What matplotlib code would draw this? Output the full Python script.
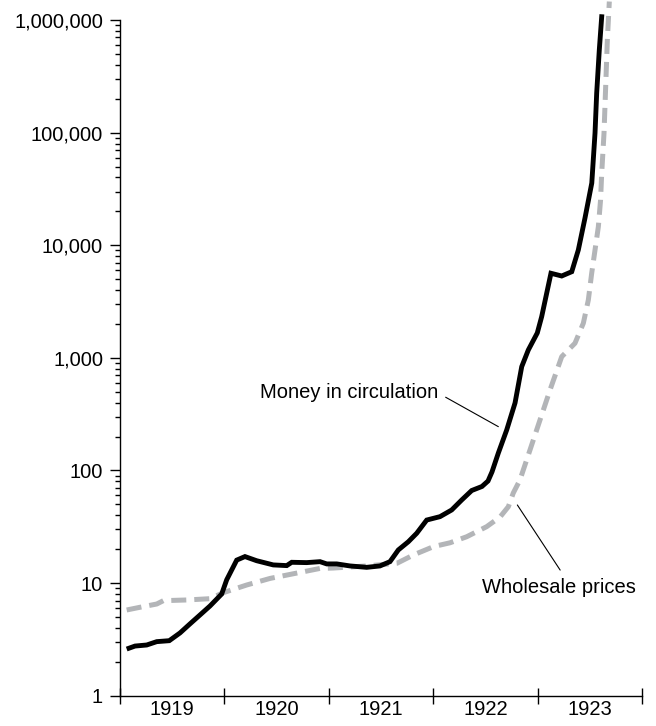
import matplotlib
matplotlib.use("Agg")
import matplotlib.pyplot as plt
import matplotlib.ticker as mticker
import numpy as np

plt.rcParams["font.family"] = ["Liberation Sans", "DejaVu Sans"]

# money in circulation (index)
money_t = [1919.086, 1919.144, 1919.256, 1919.352, 1919.472, 1919.575, 1919.670,
           1919.766, 1919.862, 1919.974, 1920.022, 1920.118, 1920.197, 1920.309,
           1920.468, 1920.597, 1920.645, 1920.788, 1920.916, 1920.980, 1921.076,
           1921.203, 1921.363, 1921.490, 1921.586, 1921.666, 1921.762, 1921.842,
           1921.938, 1922.065, 1922.177, 1922.273, 1922.369, 1922.467, 1922.525,
           1922.563, 1922.624, 1922.704, 1922.784, 1922.848, 1922.911, 1922.997,
           1923.039, 1923.128, 1923.231, 1923.327, 1923.390, 1923.454, 1923.519,
           1923.550, 1923.566, 1923.591, 1923.614]
money_v = [2.64, 2.76, 2.82, 3.02, 3.08, 3.61, 4.34,
           5.21, 6.26, 8.0, 10.7, 16.0, 17.2, 15.8,
           14.5, 14.3, 15.3, 15.2, 15.5, 14.8, 14.8,
           14.2, 13.8, 14.2, 15.5, 19.7, 23.3, 27.7,
           36.3, 38.9, 44.6, 54.7, 66.4, 72.1, 80.6,
           97.0, 143, 229, 398, 836, 1175, 1664,
           2322, 5640, 5335, 5823, 9080, 17470, 35700,
           99300, 225000, 543000, 1070000]

# wholesale prices (index)
price_t = [1919.064, 1919.192, 1919.352, 1919.415, 1919.639, 1919.862, 1919.989,
           1920.214, 1920.437, 1920.660, 1920.916, 1921.040, 1921.363, 1921.653,
           1921.812, 1922.004, 1922.161, 1922.321, 1922.512, 1922.640, 1922.720,
           1922.767, 1922.831, 1922.927, 1923.023, 1923.119, 1923.231, 1923.358,
           1923.438, 1923.486, 1923.518, 1923.550, 1923.582, 1923.603, 1923.614,
           1923.636, 1923.652, 1923.668, 1923.687]
price_v = [5.77, 6.10, 6.52, 6.98, 7.08, 7.27, 8.22,
           9.62, 11.0, 12.1, 13.5, 13.6, 14.2, 15.0,
           17.8, 21.1, 22.8, 25.8, 31.7, 38.6, 47.7,
           63.1, 82.4, 152, 281, 519, 1025, 1349,
           2030, 3265, 5640, 9080, 14620, 25200, 43600,
           98800, 256000, 665000, 1460000]

years = [1919, 1920, 1921, 1922, 1923]

fig = plt.figure(figsize=(6.56, 7.26), dpi=100)
ax = fig.add_axes([120 / 656, 30.3 / 726, 522 / 656, 695.7 / 726])

ax.plot(price_t, price_v, color="#b3b5b8", lw=3.6, dashes=(3.0, 1.6),
        solid_capstyle="butt", dash_capstyle="butt", clip_on=False)
ax.plot(money_t, money_v, color="black", lw=3.5, solid_joinstyle="miter",
        clip_on=False)

ax.set_yscale("log")
ax.set_ylim(1, 10 ** 6.178)
ax.set_xlim(1919, 1924)

ax.yaxis.set_major_locator(mticker.LogLocator(base=10, numticks=10))
ax.yaxis.set_minor_locator(mticker.LogLocator(base=10, subs=np.arange(2, 10), numticks=10))
ax.yaxis.set_major_formatter(mticker.FuncFormatter(lambda v, p: f"{v:,.0f}"))
ax.yaxis.set_minor_formatter(mticker.NullFormatter())

# year boundaries as ticks, year names centred between them
ax.set_xticks(years + [1924])
ax.set_xticks([y + 0.5 for y in years], minor=True)
ax.set_xticklabels([str(y) for y in years], minor=True)

ax.tick_params(axis="y", which="major", length=7.2, width=1, labelsize=14.5, pad=5)
ax.tick_params(axis="y", which="minor", length=3.6, width=1)
ax.tick_params(axis="x", which="major", direction="inout", length=11, width=1,
               labelbottom=False)
ax.tick_params(axis="x", which="minor", length=0, labelsize=14.5, pad=3)

for s in ["top", "right"]:
    ax.spines[s].set_visible(False)
ax.spines["left"].set_bounds(1, 1e6)
ax.spines["left"].set_linewidth(1)
ax.spines["bottom"].set_linewidth(1)

ax.annotate("Money in circulation", xy=(1922.624, 245), xytext=(1922.046, 488),
            ha="right", va="center", fontsize=14.5,
            arrowprops=dict(arrowstyle="-", color="black", lw=0.8,
                            relpos=(1, 0.5), shrinkA=4, shrinkB=0))
ax.annotate("Wholesale prices", xy=(1922.806, 49.4), xytext=(1922.467, 9.23),
            ha="left", va="center", fontsize=14.5,
            arrowprops=dict(arrowstyle="-", color="black", lw=0.8,
                            relpos=(0.54, 1.0), shrinkA=4, shrinkB=0))

fig.savefig("out.png", dpi=100)
